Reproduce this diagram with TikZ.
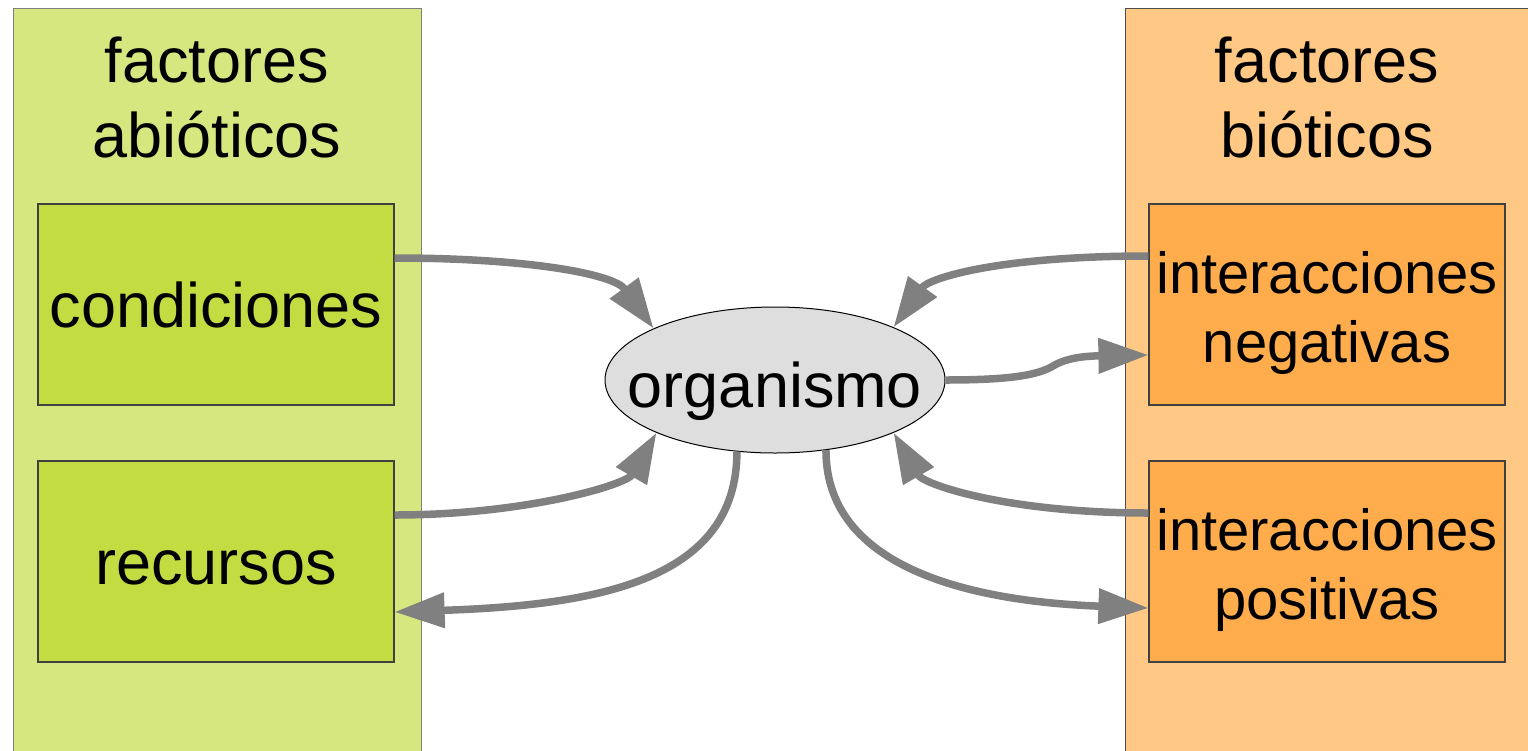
\documentclass[tikz,border=0pt]{standalone}
\usepackage{fontspec}
\setmainfont{Liberation Sans}
\usetikzlibrary{arrows.meta,shapes.geometric}
\definecolor{gpanel}{HTML}{D7E780}
\definecolor{gbox}{HTML}{C2DC42}
\definecolor{opanel}{HTML}{FFC985}
\definecolor{obox}{HTML}{FFAD4C}
\definecolor{ellfill}{HTML}{DEDEDE}
\definecolor{arrgray}{HTML}{808080}
\tikzset{
  panel/.style={line width=1.2pt, minimum width=408pt, minimum height=800pt, anchor=north west, inner sep=0pt},
  box/.style={draw=black!75, line width=1.2pt, minimum width=356pt, minimum height=201pt, inner sep=0pt,
    font=\fontsize{63}{75}\selectfont, text height=45pt, text depth=0pt},
  box2/.style={box, font=\fontsize{58}{69}\selectfont, align=center, text height=115pt, text depth=0pt},
  titletext/.style={font=\fontsize{63}{75}\selectfont, align=center, anchor=base},
  arr/.style={draw=arrgray, line width=7.5pt, -{Triangle[length=50pt,width=34pt]}}
}
\begin{document}
\begin{tikzpicture}[x=1pt,y=-1pt]
\useasboundingbox (0,0) rectangle (1528,750);
\clip (0,0) rectangle (1528,750);
\node[panel, draw=black!50, fill=gpanel] (abio) at (13,8) {};
\node[panel, draw=black!70, fill=opanel, minimum width=404pt] (bio) at (1125,8) {};
\node[titletext] (tabio) at (217,157) {factores\\abióticos};
\node[titletext] (tbio) at (1327,157) {factores\\bióticos};
\node[box, fill=gbox] (cond) at (216,304.5) {condiciones};
\node[box, fill=gbox] (rec) at (216,561.5) {recursos};
\node[box2, fill=obox] (neg) at (1327,304.5) {interacciones\\negativas};
\node[box2, fill=obox] (pos) at (1327,561.5) {interacciones\\positivas};
\node[ellipse, draw, line width=1pt, fill=ellfill, minimum width=340pt, minimum height=146pt, inner sep=0pt,
  font=\fontsize{63}{75}\selectfont, text height=54pt, text depth=0pt] (org) at (775,380) {\makebox[0pt]{organismo}};
\draw[arr] ([yshift=46.5pt]cond.east) .. controls +(130,0) and +(-40,-55) .. (org.157);
\draw[arr] ([yshift=46.5pt]rec.east) .. controls +(130,0) and +(-30,52) .. (org.204);
\draw[arr] (org.242) .. controls +(0,128) and +(205,-7) .. ([yshift=-50.5pt]rec.east);
\draw[arr] ([yshift=48.5pt]neg.west) .. controls +(-150,0) and +(35,-49) .. (org.24);
\draw[arr] (org.east) .. controls +(65,0) and +(-15,9) .. (1053,366) .. controls +(15,-9) and +(-60,1) .. ([yshift=-50.5pt]neg.west);
\draw[arr] ([yshift=48.5pt]pos.west) .. controls +(-140,0) and +(30,52) .. (org.336);
\draw[arr] (org.306) .. controls +(0,125) and +(-160,-6) .. ([yshift=-46.5pt]pos.west);
\end{tikzpicture}
\end{document}
